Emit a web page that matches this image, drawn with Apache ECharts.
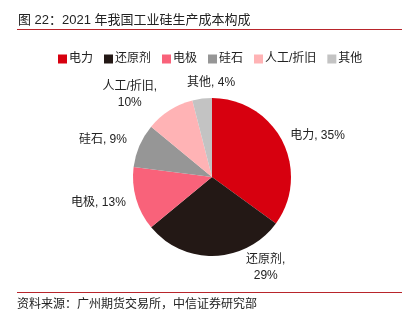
<!DOCTYPE html>
<html>
<head>
<meta charset="utf-8">
<script src="https://cdn.jsdelivr.net/npm/echarts@6/dist/echarts.min.js"></script>
<style>
  html, body { margin: 0; padding: 0; background: #fff; }
  #chart { width: 410px; height: 322px; }
</style>
</head>
<body>
<div id="chart"></div>
<script>
// 2021 年工业硅生产成本构成 (%)
const categories = ['电力', '还原剂', '电极', '硅石', '人工/折旧', '其他'];
const shares = [35, 29, 13, 9, 10, 4];
const colors = ['#D7000F', '#231815', '#F9627A', '#969696', '#FFB3B5', '#C3C3C3'];
const titleText = '图 22：2021 年我国工业硅生产成本构成';
const sourceText = '资料来源：广州期货交易所，中信证券研究部';

// small nudges for the outside slice labels (pixels), labels centred on their anchor
const labelNudge = [[23, -2], [46, 4], [-30, 1], [-29, -3], [-19, -22], [15, -8]];

const FONT = '"Liberation Sans", "Noto Sans CJK SC", sans-serif';

const chart = echarts.init(document.getElementById('chart'), null, { renderer: 'canvas' });

chart.setOption({
  animation: false,
  backgroundColor: '#fff',
  color: colors,
  title: {
    text: titleText,
    left: 13,
    top: 9,
    textStyle: { fontFamily: FONT, fontSize: 13, fontWeight: 'normal', color: '#222' }
  },
  graphic: [
    { type: 'line', shape: { x1: 17, y1: 29.5, x2: 402, y2: 29.5 }, style: { stroke: '#B8252B', lineWidth: 1 } },
    { type: 'line', shape: { x1: 17, y1: 292.5, x2: 402, y2: 292.5 }, style: { stroke: '#B8252B', lineWidth: 1 } },
    { type: 'text', left: 17, top: 299, style: { text: sourceText, font: '12px ' + FONT, fill: '#222' } }
  ],
  legend: {
    top: 48,
    left: 53,
    itemWidth: 9,
    itemHeight: 9,
    itemGap: 11,
    icon: 'rect',
    textStyle: { fontFamily: FONT, fontSize: 12, color: '#222', padding: [0, 0, 0, -3] },
    data: categories
  },
  series: [{
    type: 'pie',
    center: [212, 177],
    radius: [0, 79],
    startAngle: 90,
    clockwise: true,
    label: {
      show: true,
      position: 'outside',
      fontFamily: FONT,
      fontSize: 12,
      color: '#222',
      lineHeight: 16,
      formatter: p => (p.name.length > 2 ? p.name + ',\n' : p.name + ', ') + p.value + '%'
    },
    labelLine: { show: false, length: 8, length2: 0 },
    labelLayout: p => ({
      align: 'center',
      dx: labelNudge[p.dataIndex][0],
      dy: labelNudge[p.dataIndex][1]
    }),
    itemStyle: { borderWidth: 0 },
    data: categories.map((c, i) => ({ name: c, value: shares[i] }))
  }]
});
</script>
</body>
</html>
